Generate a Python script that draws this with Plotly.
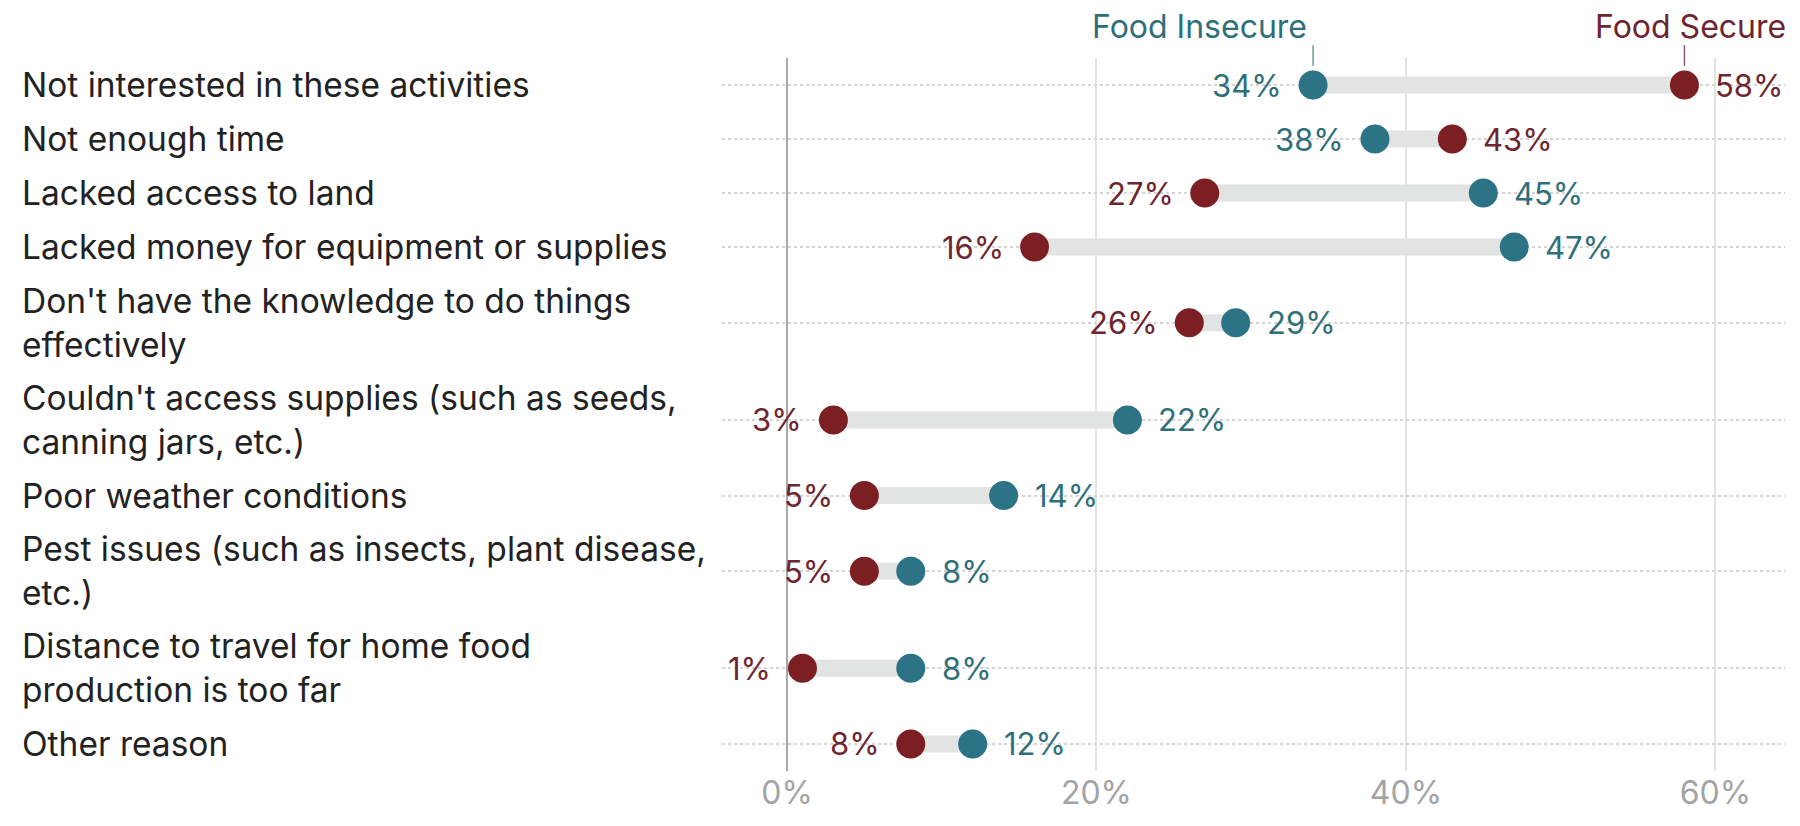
import plotly.graph_objects as go

# Reasons for not doing home food production, share of respondents (%)
reasons = [
    "Not interested in these activities",
    "Not enough time",
    "Lacked access to land",
    "Lacked money for equipment or supplies",
    "Don't have the knowledge to do things<br>effectively",
    "Couldn't access supplies (such as seeds,<br>canning jars, etc.)",
    "Poor weather conditions",
    "Pest issues (such as insects, plant disease,<br>etc.)",
    "Distance to travel for home food<br>production is too far",
    "Other reason",
]
food_secure = [58, 43, 27, 16, 26, 3, 5, 5, 1, 8]
food_insecure = [34, 38, 45, 47, 29, 22, 14, 8, 8, 12]

x_ticks = [0, 20, 40, 60]
x_tick_text = ["0%", "20%", "40%", "60%"]

SECURE = "#7b1f23"
INSECURE = "#2b7385"
SECURE_TXT = "#6d2530"
INSECURE_TXT = "#2e6f7a"
FONT = "Inter"

# Row height grows with the number of label lines
heights = [1.0 if "<br>" not in r else 1.8 for r in reasons]
pos = []
acc = 0.0
for h in heights:
    pos.append(acc + h / 2)
    acc += h
total = acc

fig = go.Figure()

# Grey connector between the two groups
bx, by = [], []
for s, i, p in zip(food_secure, food_insecure, pos):
    bx += [s, i, None]
    by += [p, p, None]
fig.add_trace(go.Scatter(x=bx, y=by, mode="lines",
                         line=dict(color="#e2e3e3", width=17),
                         hoverinfo="skip", showlegend=False))

fig.add_trace(go.Scatter(x=food_insecure, y=pos, mode="markers", name="Food Insecure",
                         marker=dict(size=29, color=INSECURE, line=dict(width=0)),
                         showlegend=False))
fig.add_trace(go.Scatter(x=food_secure, y=pos, mode="markers", name="Food Secure",
                         marker=dict(size=29, color=SECURE, line=dict(width=0)),
                         showlegend=False))

annotations = []
# Value labels on the outer side of each pair
for s, i, p in zip(food_secure, food_insecure, pos):
    for v, other, col in ((s, i, SECURE_TXT), (i, s, INSECURE_TXT)):
        left = v < other
        annotations.append(dict(
            x=v, y=p, xref="x", yref="y", text=f"{v}%", showarrow=False,
            xanchor="right" if left else "left", yanchor="middle",
            xshift=-29 if left else 29,
            font=dict(family=FONT, size=31, color=col)))

# Category labels, left aligned at the page edge
for r, p in zip(reasons, pos):
    annotations.append(dict(
        x=-0.6604, y=p, xref="paper", yref="y", text=r, showarrow=False,
        xanchor="left", yanchor="middle", align="left",
        font=dict(family=FONT, size=33.5, color="#222222")))

# Series headers above the first row
annotations.append(dict(x=food_insecure[0], y=1.0435, xref="x", yref="paper",
                        text="Food Insecure", showarrow=False,
                        xanchor="right", yanchor="middle", xshift=-4,
                        font=dict(family=FONT, size=32, color=INSECURE_TXT)))
annotations.append(dict(x=food_secure[0], y=1.0435, xref="x", yref="paper",
                        text="Food Secure", showarrow=False,
                        xanchor="center", yanchor="middle", xshift=6,
                        font=dict(family=FONT, size=32, color=SECURE_TXT)))

shapes = []
for v, col in ((food_insecure[0], "#6f9aa2"), (food_secure[0], "#8a5a60")):
    shapes.append(dict(type="line", xref="x", yref="paper", x0=v, x1=v,
                       y0=1.018, y1=0.989, line=dict(color=col, width=1.5)))

fig.update_layout(
    width=1800, height=826,
    margin=dict(l=722, r=15, t=58, b=55),
    paper_bgcolor="white", plot_bgcolor="white",
    annotations=annotations, shapes=shapes,
    xaxis=dict(range=[-4.2, 64.5], tickvals=x_ticks, ticktext=x_tick_text,
               showgrid=True, gridcolor="#e3e3e3", gridwidth=1.5,
               zeroline=True, zerolinecolor="#a9a9a9", zerolinewidth=2,
               ticks="",
               tickfont=dict(family=FONT, size=32, color="#a3a3a3"),
               showline=False, fixedrange=True, automargin=False),
    yaxis=dict(range=[total, 0], tickvals=pos, showticklabels=False,
               showgrid=True, gridcolor="#d4d4d4", gridwidth=1.5, griddash="dot",
               zeroline=False, showline=False, fixedrange=True, automargin=False),
    font=dict(family=FONT),
)

fig.write_html("out.html")
